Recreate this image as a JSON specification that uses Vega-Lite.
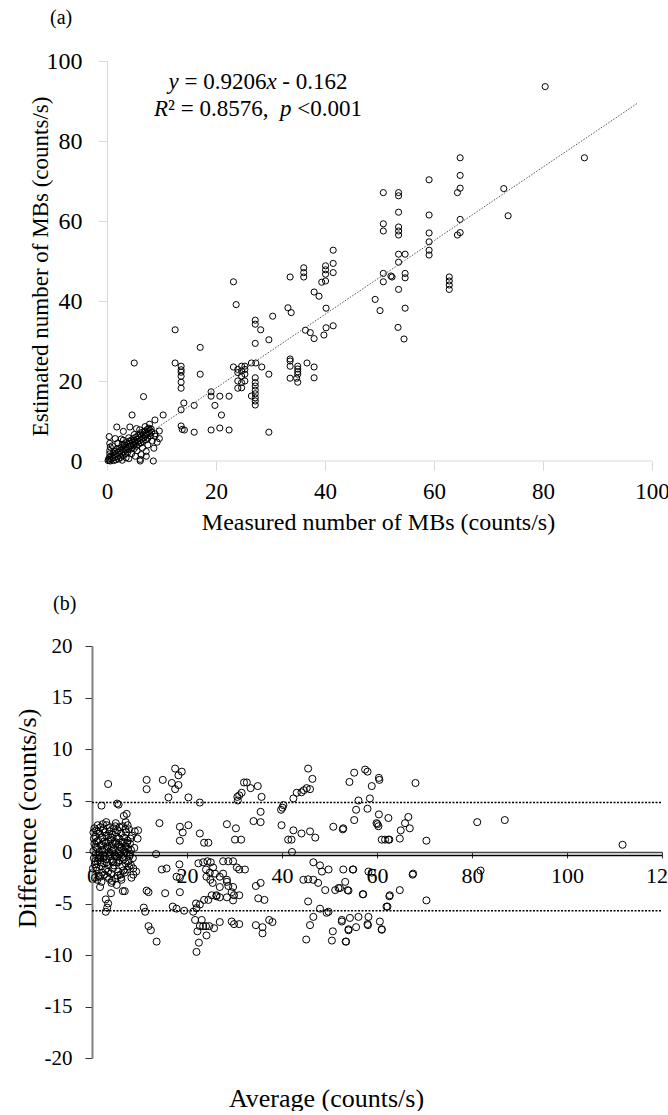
{
"$schema": "https://vega.github.io/schema/vega-lite/v6.json",
"padding": {"left": 14, "top": 8, "right": 0, "bottom": 0},
"config": {"font": "Liberation Serif", "view": {"stroke": null}, "axis": {"grid": false, "labelColor": "black", "titleColor": "black", "titleFontWeight": "normal", "labelFont": "Liberation Serif", "titleFont": "Liberation Serif"}},
"spacing": 60,
"datasets": {
"a": [
{"m":80.4,"e":93.6},{"m":87.6,"e":75.8},{"m":64.8,"e":75.8},{"m":64.8,"e":71.4},{"m":64.8,"e":68.2},{"m":64.3,"e":67.1},{"m":59.1,"e":70.3},{"m":72.8,"e":68.1},{"m":73.6,"e":61.3},{"m":59.1,"e":61.5},{"m":64.8,"e":60.4},{"m":64.8,"e":57.1},{"m":64.3,"e":56.5},{"m":59.1,"e":57},{"m":59.1,"e":54.8},{"m":59.1,"e":52.7},{"m":59.1,"e":51.5},{"m":53.5,"e":67.1},{"m":53.5,"e":66.3},{"m":50.7,"e":67.1},{"m":53.5,"e":62.2},{"m":50.7,"e":59.3},{"m":50.7,"e":57.5},{"m":53.5,"e":58.5},{"m":53.5,"e":57.5},{"m":53.5,"e":56.5},{"m":53.5,"e":51.7},{"m":54.7,"e":51.7},{"m":53.5,"e":49.7},{"m":50.7,"e":46.9},{"m":50.7,"e":44.8},{"m":52.3,"e":46},{"m":54.7,"e":46.9},{"m":54.7,"e":45.8},{"m":53.5,"e":42.9},{"m":62.8,"e":46},{"m":62.8,"e":45},{"m":62.8,"e":44},{"m":62.8,"e":42.9},{"m":54.7,"e":38.2},{"m":52.1,"e":46.25},{"m":49.2,"e":40.4},{"m":50.1,"e":37.6},{"m":54.5,"e":30.5},{"m":53.4,"e":33.4},
{"m":41.5,"e":52.7},{"m":41.5,"e":49.4},{"m":40.1,"e":48.8},{"m":40.1,"e":47.8},{"m":41.5,"e":47.1},{"m":40.1,"e":46.7},{"m":40.1,"e":45},{"m":39.4,"e":44.7},{"m":36.1,"e":48.3},{"m":36.1,"e":47.1},{"m":36.1,"e":46},{"m":33.6,"e":46},{"m":38.0,"e":42.25},{"m":38.9,"e":41.2},{"m":23.2,"e":44.8},{"m":23.7,"e":39.1},{"m":33.2,"e":38.3},{"m":33.8,"e":37.1},{"m":40.2,"e":38.2},{"m":30.4,"e":36.2},{"m":27.2,"e":35.2},{"m":27.2,"e":34.2},{"m":28.2,"e":32.8},{"m":29.7,"e":30.3},{"m":27.2,"e":29.4},{"m":12.5,"e":32.8},{"m":17.1,"e":28.4},{"m":5.0,"e":24.5},{"m":12.5,"e":24.5},{"m":13.6,"e":23.7},{"m":13.6,"e":22.8},{"m":13.6,"e":22.2},{"m":13.6,"e":21.2},{"m":13.6,"e":19.7},{"m":13.6,"e":18.2},{"m":17.1,"e":21.7},
{"m":36.4,"e":32.7},{"m":37.3,"e":32.1},{"m":38.0,"e":30.6},{"m":39.8,"e":31.5},{"m":40.2,"e":33.3},{"m":41.5,"e":33.8},{"m":33.6,"e":25.5},{"m":33.6,"e":25},{"m":33.6,"e":23.7},{"m":33.6,"e":20.7},{"m":36.7,"e":24.5},{"m":38.0,"e":23.5},{"m":38.0,"e":20.8},{"m":35.0,"e":23.7},{"m":35.0,"e":23},{"m":35.0,"e":22.3},{"m":35.0,"e":21.7},{"m":34.8,"e":20.7},{"m":35.0,"e":19.7},
{"m":23.2,"e":23.5},{"m":24.0,"e":22.9},{"m":24.0,"e":22.1},{"m":24.0,"e":20},{"m":24.0,"e":18.2},{"m":24.7,"e":23.7},{"m":24.7,"e":22.5},{"m":24.7,"e":21.25},{"m":24.7,"e":19.6},{"m":24.7,"e":18.3},{"m":25.3,"e":23.7},{"m":25.3,"e":22.9},{"m":25.3,"e":21.7},{"m":25.3,"e":20},{"m":26.5,"e":24.5},{"m":27.3,"e":24.5},{"m":27.2,"e":20.8},{"m":27.2,"e":19.6},{"m":27.2,"e":18.75},{"m":27.2,"e":17.7},{"m":27.2,"e":16.8},{"m":27.2,"e":15.8},{"m":27.2,"e":15},{"m":27.2,"e":14},{"m":26.5,"e":16.25},{"m":28.4,"e":23.5},{"m":29.7,"e":21.7},{"m":29.7,"e":7.2},
{"m":19.1,"e":17.3},{"m":19.1,"e":16.2},{"m":20.7,"e":16.2},{"m":22.4,"e":16.2},{"m":19.8,"e":13.9},{"m":21.0,"e":11.5},{"m":16.0,"e":13.9},{"m":14.1,"e":14.5},{"m":13.6,"e":12.8},{"m":10.3,"e":11.5},{"m":8.8,"e":10.25},{"m":6.7,"e":16.1},{"m":4.6,"e":11.5},{"m":13.6,"e":8.75},{"m":13.8,"e":7.9},{"m":14.2,"e":7.75},{"m":16.0,"e":7.2},{"m":19.1,"e":7.75},{"m":20.7,"e":8.25},{"m":22.4,"e":7.75},{"m":1.8,"e":8.5},{"m":2.6,"e":5.5},{"m":3.0,"e":7.4},{"m":4.2,"e":8.5},{"m":5.4,"e":8.1},{"m":9.6,"e":7.5},{"m":9.6,"e":5.6},{"m":8.8,"e":6.8},{"m":8.5,"e":0},{"m":6.1,"e":0},{"m":6.1,"e":0.4},{"m":7.2,"e":1.2},
{"m":0.2,"e":0.1},{"m":0.3,"e":0.5},{"m":0.4,"e":0.2},{"m":0.5,"e":1.0},{"m":0.5,"e":1.8},{"m":0.5,"e":2.6},{"m":0.6,"e":3.5},{"m":0.5,"e":4.4},{"m":0.4,"e":6.1},{"m":0.6,"e":0.0},{"m":0.8,"e":0.4},{"m":0.9,"e":1.3},{"m":1.0,"e":0.7},{"m":1.1,"e":2.0},{"m":1.2,"e":0.1},{"m":1.3,"e":1.5},{"m":1.4,"e":0.9},{"m":1.5,"e":2.4},{"m":1.6,"e":0.3},{"m":1.7,"e":1.8},{"m":1.8,"e":3.0},{"m":1.9,"e":1.1},{"m":2.0,"e":2.2},{"m":2.1,"e":0.5},{"m":2.2,"e":3.1},{"m":2.3,"e":1.7},{"m":2.4,"e":2.6},{"m":2.5,"e":0.9},{"m":2.6,"e":3.4},{"m":2.7,"e":2.0},{"m":2.8,"e":4.2},{"m":2.9,"e":1.4},{"m":3.0,"e":3.0},{"m":3.1,"e":2.4},{"m":3.2,"e":4.0},{"m":3.3,"e":1.8},{"m":3.4,"e":3.5},{"m":3.5,"e":2.8},{"m":3.6,"e":4.6},{"m":3.7,"e":3.2},{"m":3.8,"e":2.2},{"m":3.9,"e":4.1},{"m":4.0,"e":3.6},{"m":4.1,"e":5.0},{"m":4.2,"e":2.9},{"m":4.3,"e":4.3},{"m":4.4,"e":3.8},{"m":4.5,"e":5.2},{"m":4.6,"e":3.3},{"m":4.7,"e":4.6},{"m":4.8,"e":5.6},{"m":4.9,"e":4.0},{"m":5.0,"e":3.1},{"m":5.1,"e":5.0},{"m":5.2,"e":4.4},{"m":5.3,"e":6.0},{"m":5.4,"e":3.7},{"m":5.5,"e":5.4},{"m":5.6,"e":4.8},{"m":5.7,"e":6.3},{"m":5.8,"e":4.2},{"m":5.9,"e":5.8},{"m":6.0,"e":5.1},{"m":6.1,"e":6.7},{"m":6.2,"e":4.5},{"m":6.3,"e":6.1},{"m":6.4,"e":5.5},{"m":6.5,"e":7.2},{"m":6.6,"e":4.9},{"m":6.7,"e":6.5},{"m":6.8,"e":5.8},{"m":6.9,"e":7.5},{"m":7.0,"e":6.2},{"m":7.1,"e":5.3},{"m":7.2,"e":7.0},{"m":7.3,"e":6.6},{"m":7.4,"e":7.9},{"m":7.5,"e":5.7},{"m":7.6,"e":7.3},{"m":7.7,"e":8.2},{"m":7.8,"e":6.9},{"m":7.9,"e":7.6},{"m":8.0,"e":6.3},{"m":8.1,"e":8.0},{"m":8.2,"e":7.2},{"m":7.0,"e":8.6},{"m":6.0,"e":7.8},{"m":5.0,"e":6.6},{"m":4.0,"e":5.8},{"m":3.0,"e":5.2},{"m":2.0,"e":4.5},{"m":1.5,"e":5.6},{"m":1.0,"e":3.8},{"m":3.5,"e":0.8},{"m":4.5,"e":1.8},{"m":5.5,"e":2.6},{"m":6.5,"e":3.3},{"m":7.5,"e":4.0},{"m":8.3,"e":5.0},{"m":8.8,"e":6.2},{"m":9.2,"e":4.7},{"m":8.6,"e":3.2},{"m":7.2,"e":2.4},{"m":6.3,"e":1.6},{"m":5.2,"e":1.2},{"m":4.0,"e":0.6},{"m":2.8,"e":0.2},{"m":7.8,"e":9.2}
],
"b": [
{"avg":3.4,"diff":6.6},{"avg":11.5,"diff":6.1},{"avg":11.5,"diff":7.0},{"avg":14.9,"diff":7.0},{"avg":16.8,"diff":6.7},{"avg":17.5,"diff":6.1},{"avg":18.2,"diff":6.5},{"avg":17.5,"diff":8.1},{"avg":18.2,"diff":7.45},{"avg":18.9,"diff":7.8},{"avg":16.1,"diff":5.3},{"avg":20.3,"diff":5.3},{"avg":22.7,"diff":4.8},{"avg":2.0,"diff":4.5},{"avg":5.6,"diff":4.6},{"avg":5.3,"diff":4.7},{"avg":6.7,"diff":3.5},{"avg":7.3,"diff":3.7},{"avg":14.2,"diff":2.8},{"avg":18.5,"diff":2.45},{"avg":20.3,"diff":2.6},{"avg":19.1,"diff":1.9},{"avg":18.5,"diff":1.1},{"avg":22.7,"diff":1.8},{"avg":23.6,"diff":0.9},{"avg":24.5,"diff":0.9},{"avg":28.4,"diff":2.7},{"avg":30.3,"diff":2.3},{"avg":30.1,"diff":1.2},{"avg":31.4,"diff":1.2},{"avg":34.0,"diff":3.0},{"avg":35.5,"diff":2.9},{"avg":35.5,"diff":3.9},{"avg":30.6,"diff":5.35},{"avg":31.0,"diff":5.5},{"avg":31.5,"diff":5.75},{"avg":30.7,"diff":5.0},{"avg":32.0,"diff":6.75},{"avg":32.6,"diff":6.75},{"avg":33.4,"diff":6.2},{"avg":34.9,"diff":6.4},{"avg":35.7,"diff":5.35},{"avg":39.8,"diff":4.1},{"avg":40.1,"diff":4.3},{"avg":39.9,"diff":2.6},{"avg":41.3,"diff":1.2},{"avg":42.0,"diff":1.2},{"avg":42.4,"diff":2.1},{"avg":44.1,"diff":1.8},{"avg":45.9,"diff":2.0},{"avg":47.0,"diff":1.4},{"avg":42.1,"diff":0.0},{"avg":40.3,"diff":4.55},{"avg":42.4,"diff":5.2},{"avg":43.1,"diff":5.75},{"avg":44.1,"diff":5.8},{"avg":44.6,"diff":6.0},{"avg":45.2,"diff":6.2},{"avg":45.9,"diff":6.1},{"avg":46.4,"diff":7.1},{"avg":45.5,"diff":8.1},{"avg":50.8,"diff":2.45},{"avg":52.9,"diff":2.3},{"avg":54.2,"diff":6.8},{"avg":55.2,"diff":7.7},{"avg":57.5,"diff":8.0},{"avg":58.0,"diff":7.8},{"avg":58.9,"diff":6.4},{"avg":60.4,"diff":7.2},{"avg":56.1,"diff":5.0},{"avg":55.6,"diff":4.1},{"avg":55.2,"diff":3.1},{"avg":58.0,"diff":4.2},{"avg":58.5,"diff":5.2},{"avg":59.9,"diff":2.8},{"avg":60.4,"diff":3.65},{"avg":60.3,"diff":2.5},{"avg":62.4,"diff":3.3},{"avg":61.0,"diff":1.2},{"avg":61.7,"diff":1.2},{"avg":62.4,"diff":1.2},{"avg":64.8,"diff":1.3},{"avg":65.0,"diff":2.1},{"avg":65.9,"diff":2.8},{"avg":66.6,"diff":3.4},{"avg":66.9,"diff":2.3},{"avg":68.1,"diff":6.7},{"avg":81.1,"diff":2.9},{"avg":86.9,"diff":3.1},{"avg":111.7,"diff":0.7},{"avg":70.4,"diff":1.1},{"avg":62.6,"diff":1.2},{"avg":60.1,"diff":2.7},{"avg":52.8,"diff":2.2},{"avg":60.5,"diff":7.0},{"avg":9.7,"diff":2.1},
{"avg":13.5,"diff":-0.2},{"avg":18.4,"diff":-1.2},{"avg":14.7,"diff":-1.7},{"avg":15.7,"diff":-1.6},{"avg":18.5,"diff":-2.5},{"avg":17.8,"diff":-2.4},{"avg":8.7,"diff":-1.6},{"avg":1.7,"diff":-3.4},{"avg":4.0,"diff":-4.0},{"avg":6.5,"diff":-3.8},{"avg":6.9,"diff":-3.8},{"avg":11.5,"diff":-3.75},{"avg":11.9,"diff":-3.9},{"avg":15.4,"diff":-4.0},{"avg":18.5,"diff":-3.9},{"avg":17.0,"diff":-5.3},{"avg":17.8,"diff":-5.5},{"avg":19.4,"diff":-5.7},{"avg":10.9,"diff":-5.4},{"avg":11.2,"diff":-5.8},{"avg":3.4,"diff":-5.0},{"avg":2.9,"diff":-5.8},{"avg":3.2,"diff":-5.4},{"avg":11.9,"diff":-7.2},{"avg":12.4,"diff":-7.6},{"avg":13.6,"diff":-8.7},{"avg":22.0,"diff":-9.7},{"avg":22.5,"diff":-8.8},{"avg":24.1,"diff":-8.1},{"avg":1.7,"diff":-2.4},{"avg":4.1,"diff":-3.0},{"avg":5.2,"diff":-3.2},{"avg":2.9,"diff":-4.6},
{"avg":22.2,"diff":-7.7},{"avg":22.7,"diff":-7.2},{"avg":23.4,"diff":-7.2},{"avg":24.0,"diff":-7.2},{"avg":24.7,"diff":-7.2},{"avg":25.7,"diff":-7.4},{"avg":26.9,"diff":-6.8},{"avg":21.7,"diff":-6.6},{"avg":23.1,"diff":-6.6},{"avg":21.3,"diff":-5.8},{"avg":22.0,"diff":-5.45},{"avg":22.7,"diff":-5.1},{"avg":21.9,"diff":-5.0},{"avg":23.6,"diff":-4.65},{"avg":24.5,"diff":-4.65},{"avg":25.2,"diff":-4.2},{"avg":26.2,"diff":-4.2},{"avg":26.9,"diff":-3.4},{"avg":25.4,"diff":-3.0},{"avg":24.1,"diff":-2.4},{"avg":24.9,"diff":-2.7},
{"avg":22.4,"diff":-1.1},{"avg":23.4,"diff":-1.0},{"avg":24.3,"diff":-0.9},{"avg":25.0,"diff":-1.0},{"avg":25.5,"diff":-1.5},{"avg":24.0,"diff":-1.7},{"avg":24.8,"diff":-2.0},{"avg":25.9,"diff":-2.1},{"avg":26.9,"diff":-2.4},{"avg":27.6,"diff":-2.1},{"avg":28.4,"diff":-2.9},{"avg":28.7,"diff":-3.3},{"avg":29.7,"diff":-3.4},{"avg":27.6,"diff":-0.9},{"avg":28.7,"diff":-0.9},{"avg":29.7,"diff":-0.9},{"avg":30.5,"diff":-1.5},{"avg":31.0,"diff":-1.7},{"avg":32.2,"diff":-1.7},{"avg":28.4,"diff":-2.7},{"avg":29.4,"diff":-3.9},{"avg":29.9,"diff":-4.2},{"avg":28.4,"diff":-4.4},{"avg":26.9,"diff":-4.4},{"avg":26.2,"diff":-4.3},{"avg":29.7,"diff":-4.7},{"avg":31.0,"diff":-4.2},
{"avg":29.4,"diff":-6.75},{"avg":29.9,"diff":-7.0},{"avg":31.0,"diff":-7.0},{"avg":34.5,"diff":-3.3},{"avg":35.5,"diff":-3.0},{"avg":35.0,"diff":-4.5},{"avg":36.3,"diff":-4.65},{"avg":34.5,"diff":-7.1},{"avg":35.9,"diff":-7.3},{"avg":35.9,"diff":-7.9},{"avg":37.3,"diff":-6.6},{"avg":38.0,"diff":-6.8},
{"avg":46.6,"diff":-1.0},{"avg":48.0,"diff":-1.3},{"avg":49.8,"diff":-1.7},{"avg":48.4,"diff":-1.9},{"avg":46.6,"diff":-2.7},{"avg":44.5,"diff":-2.7},{"avg":45.5,"diff":-2.65},{"avg":47.6,"diff":-3.0},{"avg":49.1,"diff":-3.7},{"avg":51.2,"diff":-3.7},{"avg":51.9,"diff":-3.5},{"avg":54.0,"diff":-3.75},{"avg":53.3,"diff":-2.9},{"avg":55.0,"diff":-1.7},{"avg":52.9,"diff":-1.7},{"avg":57.1,"diff":-4.1},{"avg":45.5,"diff":-4.8},{"avg":48.0,"diff":-5.5},{"avg":49.8,"diff":-5.8},{"avg":49.4,"diff":-5.9},{"avg":46.6,"diff":-6.3},{"avg":45.9,"diff":-7.1},{"avg":45.1,"diff":-8.5},{"avg":50.7,"diff":-7.7},{"avg":50.5,"diff":-8.6},{"avg":52.6,"diff":-6.6},{"avg":53.4,"diff":-8.7},{"avg":54.0,"diff":-7.5},{"avg":54.3,"diff":-6.4},{"avg":55.6,"diff":-7.3},{"avg":56.1,"diff":-6.3},{"avg":58.2,"diff":-6.3},{"avg":58.0,"diff":-7.0},{"avg":60.6,"diff":-6.75},{"avg":61.0,"diff":-7.5},{"avg":62.0,"diff":-5.3},{"avg":62.7,"diff":-4.2},{"avg":64.8,"diff":-3.7},{"avg":58.2,"diff":-1.9},{"avg":58.9,"diff":-2.0},{"avg":67.6,"diff":-2.1},
{"avg":81.8,"diff":-1.8},{"avg":67.5,"diff":-2.2},{"avg":70.4,"diff":-4.7},{"avg":62.6,"diff":-4.3},{"avg":62.2,"diff":-5.3},{"avg":57.0,"diff":-4.1},{"avg":54.9,"diff":-1.7},{"avg":53.8,"diff":-3.7},{"avg":52.2,"diff":-3.5},{"avg":61.0,"diff":-7.55},{"avg":58.1,"diff":-7.1},{"avg":54.0,"diff":-7.6},{"avg":53.5,"diff":-8.7},{"avg":52.6,"diff":-6.75},
{"avg":0.3,"diff":0.1},{"avg":0.4,"diff":-0.6},{"avg":0.5,"diff":0.8},{"avg":0.6,"diff":-1.2},{"avg":0.7,"diff":1.5},{"avg":0.8,"diff":-0.2},{"avg":0.9,"diff":2.1},{"avg":1.0,"diff":-1.8},{"avg":1.1,"diff":0.4},{"avg":1.2,"diff":-0.9},{"avg":1.3,"diff":1.1},{"avg":1.4,"diff":-2.3},{"avg":1.5,"diff":0.0},{"avg":1.6,"diff":1.8},{"avg":1.7,"diff":-0.5},{"avg":1.8,"diff":2.4},{"avg":1.9,"diff":-1.4},{"avg":2.0,"diff":0.7},{"avg":2.1,"diff":-2.0},{"avg":2.2,"diff":1.4},{"avg":2.3,"diff":-0.3},{"avg":2.4,"diff":2.2},{"avg":2.5,"diff":-1.1},{"avg":2.6,"diff":0.2},{"avg":2.7,"diff":1.9},{"avg":2.8,"diff":-1.7},{"avg":2.9,"diff":0.9},{"avg":3.0,"diff":-0.7},{"avg":3.1,"diff":2.6},{"avg":3.2,"diff":-2.4},{"avg":3.3,"diff":0.5},{"avg":3.4,"diff":1.6},{"avg":3.5,"diff":-1.3},{"avg":3.6,"diff":0.0},{"avg":3.7,"diff":2.0},{"avg":3.8,"diff":-0.4},{"avg":3.9,"diff":1.2},{"avg":4.0,"diff":-2.1},{"avg":4.1,"diff":0.6},{"avg":4.2,"diff":-0.9},{"avg":4.3,"diff":1.7},{"avg":4.4,"diff":-1.6},{"avg":4.5,"diff":0.3},{"avg":4.6,"diff":2.3},{"avg":4.7,"diff":-0.2},{"avg":4.8,"diff":1.0},{"avg":4.9,"diff":-2.6},{"avg":5.0,"diff":0.8},{"avg":5.1,"diff":-1.0},{"avg":5.2,"diff":1.5},{"avg":5.3,"diff":-0.5},{"avg":5.4,"diff":2.1},{"avg":5.5,"diff":-1.9},{"avg":5.6,"diff":0.1},{"avg":5.7,"diff":1.3},{"avg":5.8,"diff":-0.8},{"avg":5.9,"diff":0.5},{"avg":6.0,"diff":-2.2},{"avg":6.1,"diff":1.8},{"avg":6.2,"diff":-0.3},{"avg":6.3,"diff":0.9},{"avg":6.4,"diff":-1.4},{"avg":6.5,"diff":2.5},{"avg":6.6,"diff":0.2},{"avg":6.7,"diff":-0.7},{"avg":6.8,"diff":1.4},{"avg":6.9,"diff":-2.0},{"avg":7.0,"diff":0.6},{"avg":7.1,"diff":-1.1},{"avg":7.2,"diff":1.9},{"avg":7.3,"diff":-0.1},{"avg":7.4,"diff":-1.7},{"avg":7.5,"diff":1.1},{"avg":7.6,"diff":0.3},{"avg":7.7,"diff":-0.9},{"avg":7.8,"diff":2.2},{"avg":7.9,"diff":-0.4},{"avg":8.0,"diff":0.8},{"avg":8.2,"diff":-1.3},{"avg":8.4,"diff":1.6},{"avg":8.6,"diff":-0.6},{"avg":8.9,"diff":0.4},{"avg":9.3,"diff":-1.9},{"avg":9.6,"diff":1.3},{"avg":1.2,"diff":2.6},{"avg":2.0,"diff":-2.9},{"avg":3.0,"diff":2.9},{"avg":4.2,"diff":-2.8},{"avg":5.0,"diff":2.8},{"avg":6.2,"diff":-2.7},{"avg":7.1,"diff":2.9},{"avg":8.3,"diff":-2.5},{"avg":0.5,"diff":2.3},{"avg":0.6,"diff":-2.5},{"avg":1.0,"diff":1.0},{"avg":2.5,"diff":1.0},{"avg":3.5,"diff":1.0},{"avg":4.5,"diff":-1.0},{"avg":5.5,"diff":-1.0},{"avg":6.5,"diff":1.0},{"avg":0.8,"diff":0.5},{"avg":1.6,"diff":-0.3},{"avg":2.4,"diff":-0.6},{"avg":3.2,"diff":0.3},{"avg":4.0,"diff":1.4},{"avg":4.8,"diff":-0.4},{"avg":5.6,"diff":0.7},{"avg":6.4,"diff":-0.5},{"avg":7.2,"diff":0.5},{"avg":8.0,"diff":-0.2},
{"avg":0.4,"diff":1.3},{"avg":0.9,"diff":-1.5},{"avg":1.3,"diff":2.0},{"avg":1.8,"diff":-1.0},{"avg":2.2,"diff":0.2},{"avg":2.6,"diff":-2.2},{"avg":3.0,"diff":1.6},{"avg":3.4,"diff":-1.9},{"avg":3.8,"diff":2.4},{"avg":4.2,"diff":0.1},{"avg":4.6,"diff":-1.3},{"avg":5.0,"diff":1.9},{"avg":5.4,"diff":-2.3},{"avg":5.8,"diff":2.4},{"avg":6.2,"diff":0.4},{"avg":6.6,"diff":-1.8},{"avg":7.0,"diff":2.2},{"avg":7.4,"diff":0.9},{"avg":7.8,"diff":-1.4},{"avg":8.2,"diff":0.2},{"avg":1.1,"diff":-2.7},{"avg":2.3,"diff":2.7},{"avg":3.6,"diff":-2.6},{"avg":4.9,"diff":2.5},{"avg":6.1,"diff":-2.5},{"avg":7.5,"diff":2.6},{"avg":0.7,"diff":-0.9},{"avg":1.9,"diff":0.6},{"avg":3.1,"diff":-1.0},{"avg":4.4,"diff":0.8},{"avg":5.7,"diff":-0.2},{"avg":6.9,"diff":0.0},{"avg":8.1,"diff":1.3},{"avg":8.7,"diff":-2.2},{"avg":9.0,"diff":2.0},{"avg":0.2,"diff":-1.6},{"avg":0.3,"diff":1.9},{"avg":1.4,"diff":-0.6},{"avg":2.7,"diff":-0.4},{"avg":3.9,"diff":-0.2}
]
},
"vconcat": [
{
"width": 560, "height": 400,
"title": {"text": "(a)", "anchor": "start", "frame": "group", "dx": -42, "fontSize": 20, "fontWeight": "normal", "font": "Liberation Serif", "offset": 5, "baseline": "alphabetic", "color": "black"},
"layer": [
{"data": {"values": [{}]}, "mark": {"type": "rule", "color": "#d9d9d9", "strokeWidth": 1}, "encoding": {"x": {"datum": 0}, "x2": {"datum": 100}, "y": {"datum": 0}}},
{"data": {"name": "a"},
 "mark": {"type": "point", "shape": "circle", "filled": false, "stroke": "black", "strokeWidth": 1, "size": 38, "opacity": 1},
 "encoding": {
  "x": {"field": "m", "type": "quantitative", "scale": {"domain": [-2.752, 100], "nice": false, "zero": false},
        "axis": {"values": [0,20,40,60,80,100], "domain": false, "tickColor": "#d9d9d9", "tickSize": 9, "labelFont": "Liberation Serif", "labelFontSize": 23, "labelPadding": 10, "labelFlush": false,
                 "title": "Measured number of MBs (counts/s)", "titleFont": "Liberation Serif", "titleFontSize": 24, "titleX": 286, "titleY": 68, "titleAlign": "center", "titleBaseline": "alphabetic"}},
  "y": {"field": "e", "type": "quantitative", "scale": {"domain": [0, 100], "nice": false},
        "axis": {"values": [0,20,40,60,80,100], "offset": -15, "domainColor": "#d9d9d9", "tickColor": "#d9d9d9", "tickSize": 9, "labelFont": "Liberation Serif", "labelFontSize": 24, "labelPadding": 16, "labelFlush": false,
                 "title": "Estimated number of  MBs (counts/s)", "titleFont": "Liberation Serif", "titleFontSize": 23, "titleX": -67, "titleY": 205, "titleAngle": -90, "titleAlign": "center", "titleBaseline": "middle"}}
 }},
{"data": {"values": [{}]}, "mark": {"type": "rule", "color": "#555", "strokeWidth": 1, "strokeDash": [1.5, 1.5]}, "encoding": {"x": {"datum": 0.3}, "y": {"datum": 0.114}, "x2": {"datum": 97.4}, "y2": {"datum": 89.5}}},
{"data": {"values": [{}]}, "mark": {"type": "text", "text": "y", "font": "Liberation Serif", "fontStyle": "italic", "fontSize": 23, "align": "left", "baseline": "alphabetic", "color": "black"}, "encoding": {"x": {"datum": 11.28}, "y": {"datum": 93}}},
{"data": {"values": [{}]}, "mark": {"type": "text", "text": "= 0.9206", "font": "Liberation Serif", "fontSize": 23, "align": "left", "baseline": "alphabetic", "color": "black"}, "encoding": {"x": {"datum": 14.21}, "y": {"datum": 93}}},
{"data": {"values": [{}]}, "mark": {"type": "text", "text": "x", "font": "Liberation Serif", "fontStyle": "italic", "fontSize": 23, "align": "left", "baseline": "alphabetic", "color": "black"}, "encoding": {"x": {"datum": 29.25}, "y": {"datum": 93}}},
{"data": {"values": [{}]}, "mark": {"type": "text", "text": "- 0.162", "font": "Liberation Serif", "fontSize": 23, "align": "left", "baseline": "alphabetic", "color": "black"}, "encoding": {"x": {"datum": 32.17}, "y": {"datum": 93}}},
{"data": {"values": [{}]}, "mark": {"type": "text", "text": "R", "font": "Liberation Serif", "fontStyle": "italic", "fontSize": 23, "align": "left", "baseline": "alphabetic", "color": "black"}, "encoding": {"x": {"datum": 8.62}, "y": {"datum": 86.25}}},
{"data": {"values": [{}]}, "mark": {"type": "text", "text": "² = 0.8576,", "font": "Liberation Serif", "fontSize": 23, "align": "left", "baseline": "alphabetic", "color": "black"}, "encoding": {"x": {"datum": 11.2}, "y": {"datum": 86.25}}},
{"data": {"values": [{}]}, "mark": {"type": "text", "text": "p", "font": "Liberation Serif", "fontStyle": "italic", "fontSize": 23, "align": "left", "baseline": "alphabetic", "color": "black"}, "encoding": {"x": {"datum": 31.74}, "y": {"datum": 86.25}}},
{"data": {"values": [{}]}, "mark": {"type": "text", "text": "<0.001", "font": "Liberation Serif", "fontSize": 23, "align": "left", "baseline": "alphabetic", "color": "black"}, "encoding": {"x": {"datum": 34.91}, "y": {"datum": 86.25}}}
]
},
{
"width": 570, "height": 412,
"title": {"text": "(b)", "anchor": "start", "frame": "group", "dx": -39, "fontSize": 20, "fontWeight": "normal", "font": "Liberation Serif", "offset": 5, "baseline": "alphabetic", "color": "black"},
"layer": [
{"data": {"name": "b"},
 "mark": {"type": "point", "shape": "circle", "filled": false, "stroke": "black", "strokeWidth": 1, "size": 50, "opacity": 1},
 "encoding": {
  "x": {"field": "avg", "type": "quantitative", "scale": {"domain": [0, 120], "nice": false},
        "axis": {"values": [0,20,40,60,80,100,120], "offset": -206, "domainColor": "#444", "domainWidth": 1.5, "tickColor": "#333", "tickSize": 6, "labelFont": "Liberation Serif", "labelFontSize": 22, "labelPadding": 7, "labelFlush": false,
                 "title": "Average (counts/s)", "titleFont": "Liberation Serif", "titleFontSize": 26, "titleX": 234, "titleY": 254, "titleAlign": "center", "titleBaseline": "alphabetic"}},
  "y": {"field": "diff", "type": "quantitative", "scale": {"domain": [-20, 20], "nice": false},
        "axis": {"values": [-20,-15,-10,-5,0,5,10,15,20], "labelExpr": "replace(datum.label, '\u2212', '-')", "domainColor": "#808080", "domainWidth": 2, "tickColor": "#333", "tickSize": 7, "labelFont": "Liberation Serif", "labelFontSize": 21, "labelPadding": 13, "labelFlush": false,
                 "title": "Difference (counts/s)", "titleFont": "Liberation Serif", "titleFontSize": 26, "titleX": -65, "titleY": 172, "titleAngle": -90, "titleAlign": "center", "titleBaseline": "middle"}}
 }},
{"data": {"values": [{}]}, "mark": {"type": "rule", "color": "black", "strokeWidth": 1.5}, "encoding": {"x": {"datum": 0}, "x2": {"datum": 120}, "y": {"datum": -0.35}}},
{"data": {"values": [{}]}, "mark": {"type": "rule", "color": "black", "strokeWidth": 1.5, "strokeDash": [2, 1.5]}, "encoding": {"x": {"datum": 0}, "x2": {"datum": 120}, "y": {"datum": 4.8}}},
{"data": {"values": [{}]}, "mark": {"type": "rule", "color": "black", "strokeWidth": 1.5, "strokeDash": [2, 1.5]}, "encoding": {"x": {"datum": 0}, "x2": {"datum": 120}, "y": {"datum": -5.7}}}
]
}
]
}
